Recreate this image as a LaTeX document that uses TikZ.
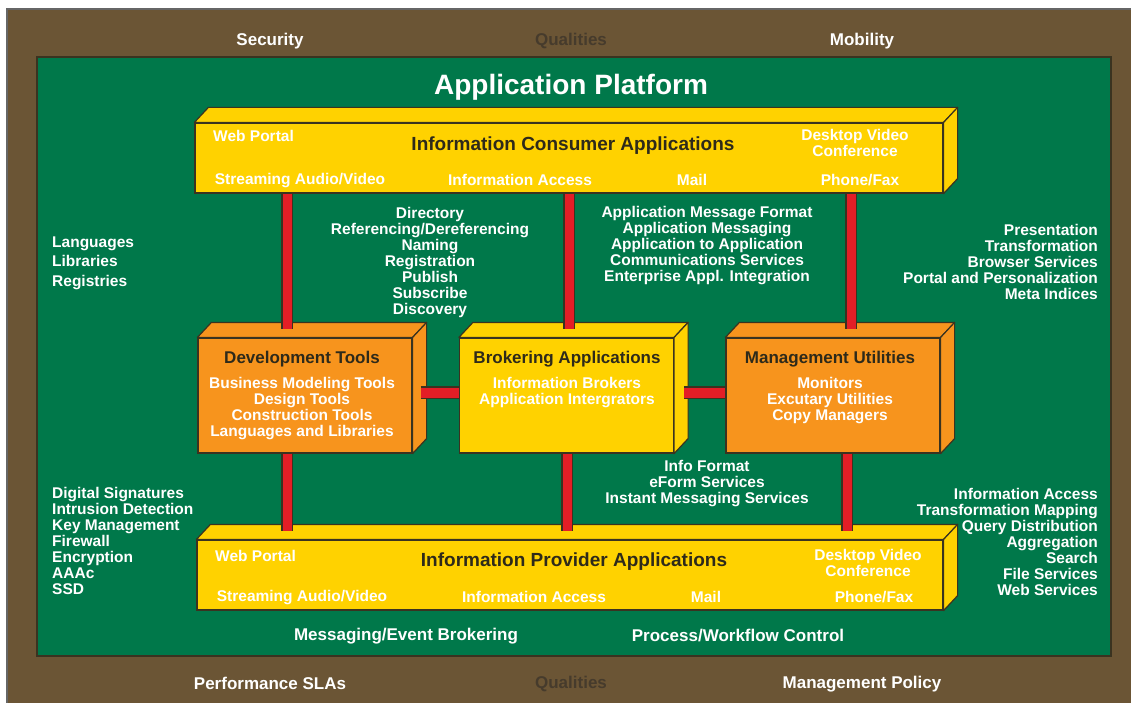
\documentclass[tikz,border=0pt]{standalone}
\usepackage{fontspec}
\setmainfont{Liberation Sans}
\usetikzlibrary{positioning,calc}
\definecolor{framebrown}{HTML}{6B5535}
\definecolor{platgreen}{HTML}{00784A}
\definecolor{boxyellow}{HTML}{FFD200}
\definecolor{boxorange}{HTML}{F7941D}
\definecolor{barred}{HTML}{E31E26}
\definecolor{titledark}{HTML}{2E2A1A}
\definecolor{qualgray}{HTML}{463B2C}
\definecolor{edgedark}{HTML}{3A3320}
\tikzset{
    framelabel/.style={
        font=\fontsize{17}{17}\selectfont\bfseries,text=white,inner sep=0pt
    },
    qualities/.style={
        framelabel,text=qualgray
    },
    platlabel/.style={
        font=\fontsize{28}{28}\selectfont\bfseries,text=white,inner sep=0pt
    },
    sidelist/.style={
        font=\fontsize{15.5}{16}\selectfont\bfseries,text=white,inner sep=0pt
    },
    appbox/.style={
        draw=edgedark,line width=1.2pt,fill=boxyellow,inner sep=0pt,minimum height=70pt
    },
    toolbox/.style={
        appbox,fill=boxorange,minimum width=214pt,minimum height=115pt
    },
    boxtitle/.style={
        font=\fontsize{19}{19}\selectfont\bfseries,text=titledark,inner sep=0pt
    },
    tooltitle/.style={
        boxtitle,font=\fontsize{17}{17}\selectfont\bfseries
    },
    boxitem/.style={
        font=\fontsize{15.5}{16}\selectfont\bfseries,text=white,inner sep=0pt,align=center
    },
    redbar/.style={
        draw=edgedark,line width=1.2pt,double=barred,double distance=9pt
    }
}
% top and right faces of a box node
\newcommand{\drawfaces}[2]{%
  \filldraw[draw=edgedark,line width=1.2pt,fill=#2,line join=round]
    (#1.north west) -- ++(14pt,15pt) -- ([shift={(14pt,15pt)}]#1.north east) -- (#1.north east) -- cycle;
  \filldraw[draw=edgedark,line width=1.2pt,fill=#2,line join=round]
    (#1.north east) -- ++(14pt,15pt) -- ([shift={(14pt,15pt)}]#1.south east) -- (#1.south east) -- cycle;}
\begin{document}
\begin{tikzpicture}[x=1pt,y=-1pt]
\useasboundingbox (0,0) rectangle (1131,703);
\filldraw[fill=framebrown,draw=gray!80!black,line width=1.5pt] (7,9) rectangle (1133,705);
\filldraw[fill=platgreen,draw=edgedark,line width=1.5pt] (37,57) rectangle (1111,656);

\node[framelabel] (sec) at (270,41) {Security};
\node[qualities] (qualtop) at (571,41) {Qualities};
\node[framelabel] (mob) at (862,41) {Mobility};
\node[framelabel] (perf) at (270,683) {Performance SLAs};
\node[qualities] (qualbot) at (571,684) {Qualities};
\node[framelabel] (mpol) at (862,684) {Management Policy};
\node[platlabel] (plat) at (571,87) {Application Platform};

% consumer applications
\node[appbox,minimum width=748pt] (ica) at (569,158) {};
\drawfaces{ica}{boxyellow}
\node[boxtitle] (icatitle) at (573,146) {Information Consumer Applications};
\node[boxitem,anchor=west] (icaweb) at (213,136) {Web Portal};
\node[boxitem,font=\fontsize{15.5}{14}\selectfont\bfseries] (icadvc) at (855,143) {Desktop Video\\Conference};
\node[boxitem] (icastream) at (300,181) {Streaming Audio/Video};
\node[boxitem] (icainfo) at (520,180) {Information Access};
\node[boxitem] (icamail) at (692,180) {Mail};
\node[boxitem] (icafax) at (860,180) {Phone/Fax};

% provider applications
\node[appbox,minimum width=746pt] (ipa) at (570,575) {};
\drawfaces{ipa}{boxyellow}
\node[boxtitle] (ipatitle) at (574,562) {Information Provider Applications};
\node[boxitem,anchor=west] (ipaweb) at (215,556) {Web Portal};
\node[boxitem,font=\fontsize{15.5}{14}\selectfont\bfseries] (ipadvc) at (868,563) {Desktop Video\\Conference};
\node[boxitem] (ipastream) at (302,598) {Streaming Audio/Video};
\node[boxitem] (ipainfo) at (534,597) {Information Access};
\node[boxitem] (ipamail) at (706,597) {Mail};
\node[boxitem] (ipafax) at (874,597) {Phone/Fax};

% middle boxes
\node[toolbox] (devt) at (305,395.5) {};
\drawfaces{devt}{boxorange}
\node[toolbox,fill=boxyellow] (brk) at (566.5,395.5) {};
\drawfaces{brk}{boxyellow}
\node[toolbox] (mgt) at (833,395.5) {};
\drawfaces{mgt}{boxorange}
\node[tooltitle] (devttitle) at (302,359) {Development Tools};
\node[boxitem] (devtitems) at (302,409) {Business Modeling Tools\\Design Tools\\Construction Tools\\Languages and Libraries};
\node[tooltitle] (brktitle) at (567,359) {Brokering Applications};
\node[boxitem] (brkitems) at (567,393) {Information Brokers\\Application Intergrators};
\node[tooltitle] (mgttitle) at (830,359) {Management Utilities};
\node[boxitem] (mgtitems) at (830,401) {Monitors\\Excutary Utilities\\Copy Managers};

% red connectors
\coordinate (devtop) at ([xshift=-18pt,yshift=8pt]devt.north);
\coordinate (brktop) at ([xshift=2.5pt,yshift=8pt]brk.north);
\coordinate (mgttop) at ([xshift=18pt,yshift=8pt]mgt.north);
\coordinate (devlow) at ([xshift=-18pt,yshift=8pt]ipa.north -| devt.south);
\coordinate (brklow) at ([xshift=0.5pt,yshift=8pt]ipa.north -| brk.south);
\coordinate (mgtlow) at ([xshift=14pt,yshift=8pt]ipa.north -| mgt.south);
\draw[redbar] (devtop |- ica.south) -- (devtop);
\draw[redbar] (brktop |- ica.south) -- (brktop);
\draw[redbar] (mgttop |- ica.south) -- (mgttop);
\draw[redbar] (devlow |- devt.south) -- (devlow);
\draw[redbar] (brklow |- brk.south) -- (brklow);
\draw[redbar] (mgtlow |- mgt.south) -- (mgtlow);
\draw[redbar,double distance=10pt] ([xshift=8pt,yshift=3pt]devt.east) -- ([yshift=3pt]brk.west);
\draw[redbar,double distance=10pt] ([xshift=10pt,yshift=3pt]brk.east) -- ([yshift=3pt]mgt.west);

% service lists
\node[sidelist,align=left,font=\fontsize{15.5}{19.5}\selectfont\bfseries,anchor=west] (langs) at (52,263) {Languages\\Libraries\\Registries};
\node[sidelist,align=left,anchor=west] (secsvc) at (52,541) {Digital Signatures\\Intrusion Detection\\Key Management\\Firewall\\Encryption\\AAAc\\SSD};
\node[sidelist,align=center] (dirsvc) at (430,262) {Directory\\Referencing/Dereferencing\\Naming\\Registration\\Publish\\Subscribe\\Discovery};
\node[sidelist,align=center] (msgsvc) at (707,246) {Application Message Format\\Application Messaging\\Application to Application\\Communications Services\\Enterprise Appl. Integration};
\node[sidelist,align=right,anchor=east] (presvc) at (1098,262) {Presentation\\Transformation\\Browser Services\\Portal and Personalization\\Meta Indices};
\node[sidelist,align=right,anchor=east] (datasvc) at (1098,542) {Information Access\\Transformation Mapping\\Query Distribution\\Aggregation\\Search\\File Services\\Web Services};
\node[sidelist,align=center] (formsvc) at (707,484) {Info Format\\eForm Services\\Instant Messaging Services};
\node[framelabel] (evbrk) at (406,636) {Messaging/Event Brokering};
\node[framelabel] (wflow) at (738,636) {Process/Workflow Control};
\end{tikzpicture}
\end{document}
